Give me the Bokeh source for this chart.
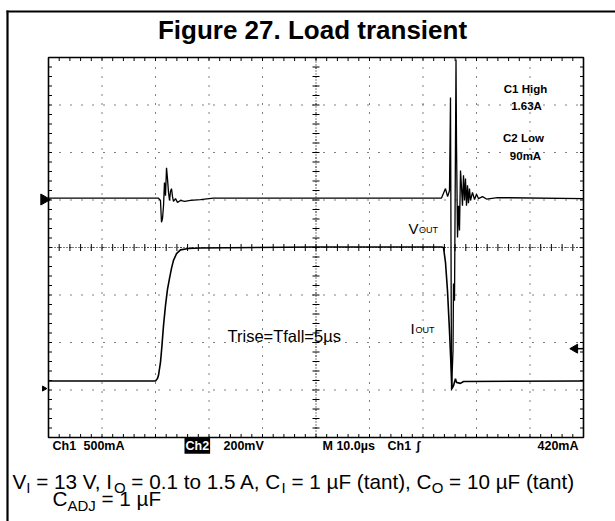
import numpy as np
from bokeh.plotting import figure
from bokeh.models import Range1d, Label
from bokeh.embed import file_html
from bokeh.resources import INLINE

# ---------------- data (time in µs, screen position in divisions, centre = 0) ----------------
vout_t = [0, 20.56, 20.93, 21.12, 21.31, 21.50, 21.68, 21.87, 22.06, 22.24, 22.43, 22.62, 22.80,
          22.99, 23.18, 23.36, 23.74, 24.11, 24.67, 25.42, 26.54, 28.4, 30.8, 50.0, 73.46, 73.83,
          74.2, 74.6, 74.95,
          75.14, 75.33, 75.61, 75.70, 75.89, 76.17, 76.26, 76.45, 76.64, 76.82, 77.01, 77.20, 77.38,
          77.57, 77.76, 77.94, 78.13, 78.32, 78.50, 78.69, 78.88, 79.25, 79.63, 80.00, 80.37, 81.12,
          81.87, 83.93, 100]
vout_div = [1.04, 1.04, 0.99, 0.53, 0.61, 0.88, 1.37, 1.09, 1.68, 1.45, 1.16, 0.99, 1.18,
            1.24, 1.07, 0.97, 1.03, 0.95, 0.99, 0.97, 0.99, 1.01, 1.04, 1.04, 1.04, 1.14,
            1.24, 1.07, 1.20,
            3.16, -3.01, -2.17, -0.76, -1.12, 3.96, 2.21, 0.21, 0.88, 0.36, 1.62, 1.26, 0.88,
            1.52, 0.99, 1.45, 0.88, 1.31, 0.93, 1.24, 0.99, 1.16, 1.01, 1.12, 1.03, 1.07,
            1.02, 1.05, 1.03]

iout_t = [0, 20.0, 20.37, 20.56, 20.93, 21.21, 21.50, 21.87, 22.24, 22.62, 22.99, 23.36, 23.93,
          24.67, 26.17, 28.41, 50.0, 73.46, 73.83, 74.21, 74.58, 74.95, 75.23, 75.42, 75.70,
          76.07, 76.26, 77.01, 77.57, 100]
iout_div = [-2.81, -2.81, -2.76, -2.69, -2.42, -2.06, -1.64, -1.22, -0.88, -0.65, -0.44, -0.27, -0.13,
            -0.05, -0.02, -0.01, 0.01, 0.01, 0.0, -0.32, -0.91, -1.75, -2.48, -2.97, -2.91,
            -2.76, -2.84, -2.86, -2.82, -2.81]

ch2_ground_div = 1.01
ch1_ground_div = -2.97
trigger_div = -2.13

title_text = "Figure 27. Load transient"
readout = ["Ch1", "500mA", "Ch2", "200mV", "M 10.0µs", "Ch1", "∫", "420mA"]
meas = ["C1 High", "1.63A", "C2 Low", "90mA"]
trise_text = "Trise=Tfall=5µs"

# ---------------- layout geometry ----------------
W, H = 615, 521                     # canvas (Bokeh page template has no body margin)
SL, SR, ST, SB = 48, 583, 57, 437   # scope screen edges on the canvas
T_SPAN, N_HDIV, N_VDIV = 100.0, 10, 8
kx = (SR - SL) / T_SPAN             # px per µs
ky = (SB - ST) / N_VDIV             # px per division

def dx(px):
    return (px - SL) / kx
def dy(py):
    return N_VDIV / 2 - (py - ST) / ky

p = figure(width=W, height=H,
           x_range=Range1d(dx(0), dx(W)), y_range=Range1d(dy(H), dy(0)),
           x_axis_type=None, y_axis_type=None,
           output_backend="svg", toolbar_location=None, min_border=0,
           background_fill_color="white", border_fill_color="white", outline_line_color=None)
p.grid.visible = False

# outer page box (top and left rule)
p.segment(x0=[dx(6)], y0=[dy(11)], x1=[dx(620)], y1=[dy(11)], line_color="black", line_width=2.2)
p.segment(x0=[dx(7)], y0=[dy(10)], x1=[dx(7)], y1=[dy(530)], line_color="black", line_width=2.2)

# ---------------- graticule ----------------
YT = N_VDIV / 2
gx = [i * T_SPAN / N_HDIV for i in range(1, N_HDIV)]
gy = [i - YT for i in range(1, N_VDIV)]
p.multi_line(xs=[[x, x] for x in gx], ys=[[-YT, YT]] * len(gx), line_color="black", line_width=1, line_dash="1 8")
p.multi_line(xs=[[0, T_SPAN]] * len(gy), ys=[[y, y] for y in gy], line_color="black", line_width=1, line_dash="1 10")
# centre lines (denser dots)
p.multi_line(xs=[[T_SPAN / 2, T_SPAN / 2], [0, T_SPAN]], ys=[[-YT, YT], [0, 0]],
             line_color="black", line_width=1, line_dash="1 2")

minx = [round(v, 3) for v in np.arange(0, T_SPAN + 0.001, T_SPAN / N_HDIV / 5)]
miny = [round(v, 3) for v in np.arange(-YT, YT + 0.001, 0.2)]
tl_x, tl_y = 3.5 / kx, 3.5 / ky     # tick length in data units
# edge ticks (inward)
p.segment(x0=minx, y0=[-YT] * len(minx), x1=minx, y1=[-YT + tl_y] * len(minx), line_color="black", line_width=1)
p.segment(x0=minx, y0=[YT] * len(minx), x1=minx, y1=[YT - tl_y] * len(minx), line_color="black", line_width=1)
p.segment(x0=[0] * len(miny), y0=miny, x1=[tl_x] * len(miny), y1=miny, line_color="black", line_width=1)
p.segment(x0=[T_SPAN] * len(miny), y0=miny, x1=[T_SPAN - tl_x] * len(miny), y1=miny, line_color="black", line_width=1)
# centre-line ticks
p.segment(x0=minx, y0=[-tl_y] * len(minx), x1=minx, y1=[tl_y] * len(minx), line_color="black", line_width=1)
p.segment(x0=[T_SPAN / 2 - tl_x] * len(miny), y0=miny, x1=[T_SPAN / 2 + tl_x] * len(miny), y1=miny,
          line_color="black", line_width=1)
# screen border
p.quad(left=[0], right=[T_SPAN], bottom=[-YT], top=[YT], fill_color=None, line_color="black", line_width=1.6)

# ---------------- traces ----------------
p.line(iout_t, iout_div, line_color="black", line_width=1.6)
p.line(vout_t, vout_div, line_color="black", line_width=1.3)

# trigger level marker (right edge)
p.scatter(x=[T_SPAN - 8.5 / kx], y=[trigger_div], marker="triangle", angle=np.pi / 2, size=9,
          fill_color="black", line_color="black")
p.segment(x0=[T_SPAN - 8.5 / kx], y0=[trigger_div], x1=[T_SPAN], y1=[trigger_div], line_color="black", line_width=1.5)

# ground markers (left of the screen)
p.scatter(x=[-4.5 / kx], y=[ch2_ground_div], marker="triangle", angle=-np.pi / 2, size=11,
          fill_color="black", line_color="black")
p.scatter(x=[-4.5 / kx], y=[ch1_ground_div], marker="triangle", angle=-np.pi / 2, size=5,
          fill_color="black", line_color="black")

# ---------------- texts ----------------
FONT = "Liberation Sans"
def lab(text, px, base_py, size, bold=False, align="left", color="black", **kw):
    # place by baseline: vertical centre of the caps sits 0.35 em above the baseline
    p.add_layout(Label(x=dx(px), y=dy(base_py - 0.35 * size), text=text, text_font=FONT,
                       text_font_size=f"{size}px", text_font_style="bold" if bold else "normal",
                       text_align=align, text_baseline="middle", text_color=color, **kw))

lab(title_text, 312, 39, 26, bold=True, align="center")

RB, RS = 449.5, 12.5
lab(readout[0], 52, RB, RS, bold=True)
lab(readout[1], 83, RB, RS, bold=True)
lab(readout[2], 184, RB, RS, bold=True, color="white", background_fill_color="black", padding=1)
lab(readout[3], 223, RB, RS, bold=True)
lab(readout[4], 322, RB, RS, bold=True)
lab(readout[5], 387, RB, RS, bold=True)
lab(readout[6], 416, RB, RS, bold=True)
lab(readout[7], 578, RB, RS, bold=True, align="right")

lab(meas[0], 525, 93, 11.5, bold=True, align="center")
lab(meas[1], 526, 110, 11.5, bold=True, align="center")
lab(meas[2], 523, 142, 11.5, bold=True, align="center")
lab(meas[3], 525, 160, 11.5, bold=True, align="center")

lab("V", 408, 233, 15)
lab("OUT", 418.5, 233, 9)
lab("I", 410, 333, 15)
lab("OUT", 415, 333, 9)
lab(trise_text, 227, 341, 16.5)

# caption with subscripts (Arial / Liberation Sans advance widths)
AW = {' ': 278, '=': 584, '.': 278, ',': 278, 'V': 667, 'I': 278, 'O': 778, 'C': 722, 'A': 667,
      'D': 722, 'J': 500, 't': 278, 'o': 556, 'a': 556, 'n': 556, 'µ': 576, 'F': 611, '(': 333, ')': 333}
def tw(s, size):
    return sum(AW.get(ch, 556) for ch in s) / 1000.0 * size

def caption(parts, x0, base, size, sub_size, sub_drop):
    x = x0
    for txt, is_sub in parts:
        sz = sub_size if is_sub else size
        lead = len(txt) - len(txt.lstrip())
        lab(txt.strip(), x + tw(" " * lead, sz), base + (sub_drop if is_sub else 0), sz)
        x += tw(txt, sz)

MS, SS = 20.7, 15
caption([("V", False), ("I", True), (" = 13 V, I", False), ("O", True), (" = 0.1 to 1.5 A, C", False),
         ("I", True), (" = 1 µF (tant), C", False), ("O", True), (" = 10 µF (tant)", False)],
        12, 488, MS, SS, 4)
caption([("C", False), ("ADJ", True), (" = 1 µF", False)], 52, 505, MS, SS, 5)

open("out.html", "w").write(file_html(p, INLINE))
